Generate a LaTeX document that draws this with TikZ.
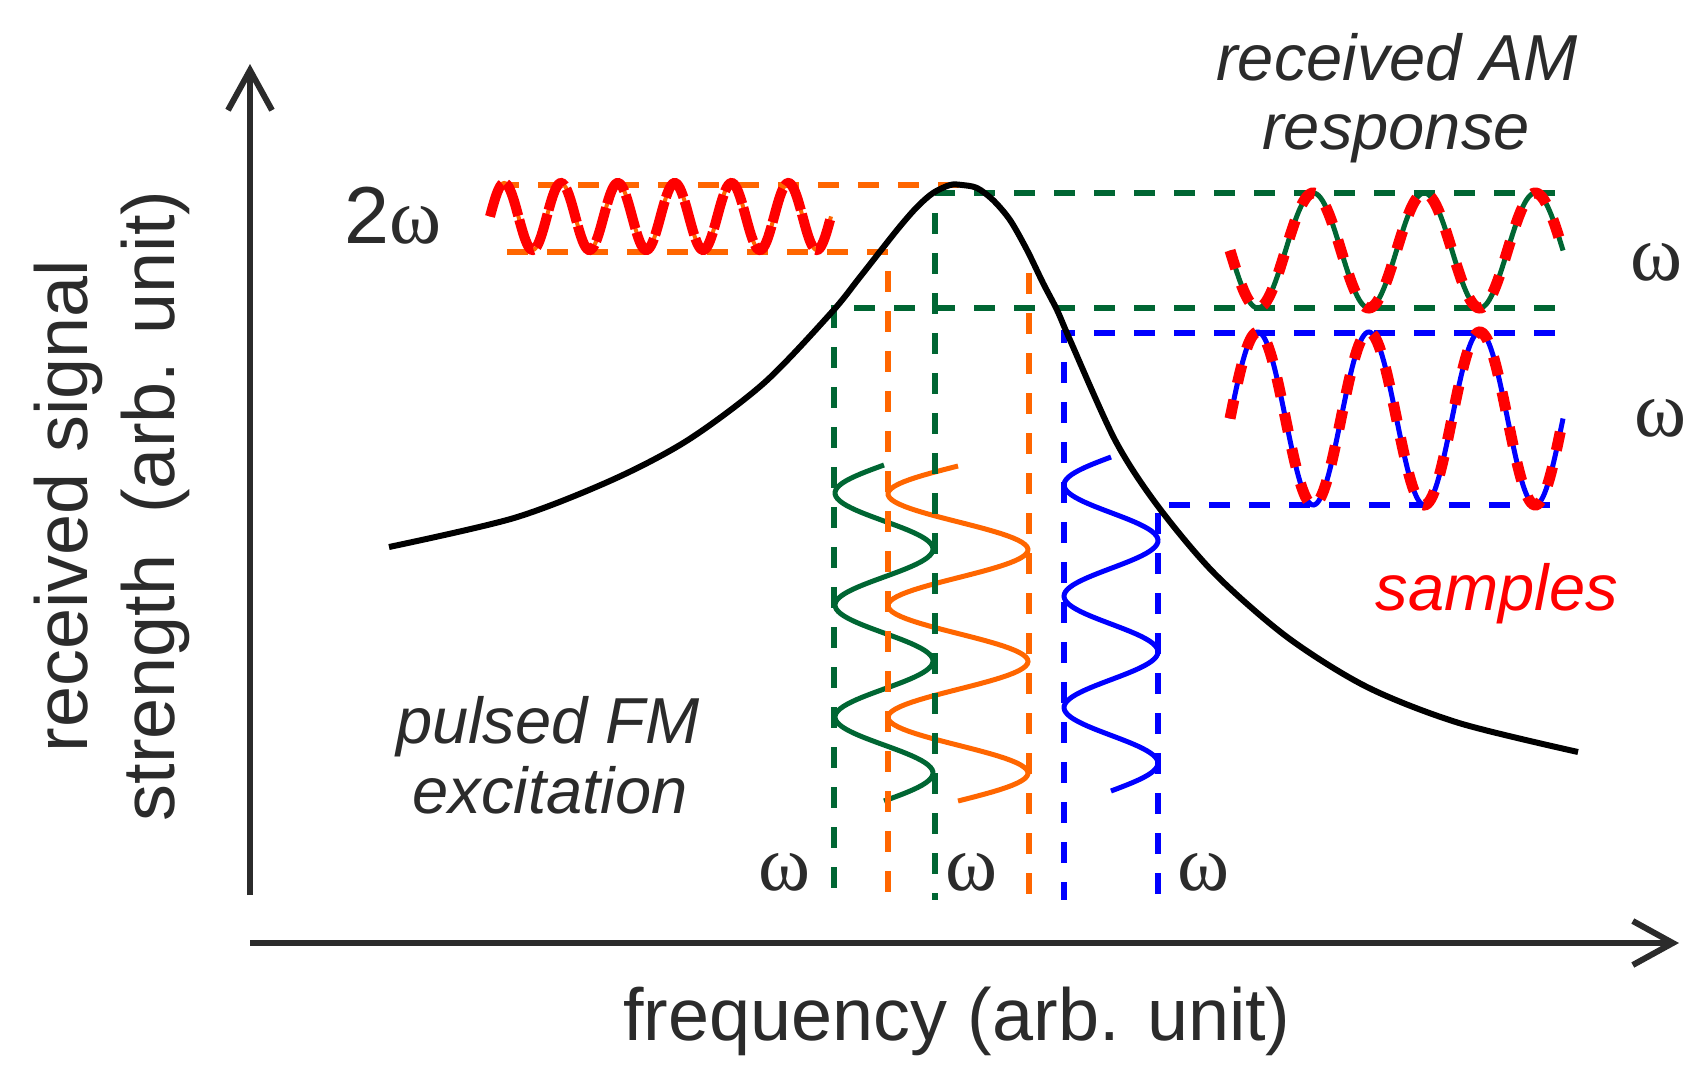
\documentclass[tikz,border=0pt]{standalone}
\usepackage{fontspec}
\setmainfont{Liberation Sans}
\newfontfamily\greek{Liberation Serif}
\usetikzlibrary{arrows.meta}
\definecolor{ink}{HTML}{2B2B2B}
\definecolor{fmgreen}{HTML}{006633}
\definecolor{fmorange}{HTML}{FF6600}
\definecolor{fmblue}{HTML}{0000FF}
\definecolor{fmred}{HTML}{FF0000}
\begin{document}
\begin{tikzpicture}[x=0.1mm,y=-0.1mm,
  axis/.style={ink,line width=0.6mm,-{Straight Barb[length=4mm,width=4.4mm]}},
  guide/.style={line width=0.6mm,dash pattern=on 2.1mm off 1.9mm},
  wave/.style={line width=0.5mm},
  sampled/.style={fmred,line width=1.1mm,dash pattern=on 1.9mm off 1.7mm},
  lbl/.style={text=ink,inner sep=0pt,anchor=base},
  big/.style={lbl,font=\fontsize{21}{25}\selectfont},
  note/.style={lbl,font=\itshape\fontsize{18.5}{22}\selectfont},
  omega/.style={lbl,font=\greek\fontsize{22.5}{26}\selectfont}]
\useasboundingbox (0,0) rectangle (1702,1084);
% axes
\draw[axis] (250,895) -- (250,64);
\draw[axis] (250,943) -- (1679,943);
\node[big] (xlab) at (957,1040) {frequency (arb. unit)};
\node[big,rotate=90] (ylab1) at (87,506) {received signal};
\node[big,rotate=90] (ylab2) at (174,506) {strength\ \ (arb. unit)};
% pulsed FM excitation
\draw[fmgreen,wave,domain=465:801,samples=150] plot ({884-49*sin((\x-465)/112*360)},\x);
\draw[fmorange,wave,domain=466:801,samples=150] plot ({958-70*sin((\x-466)/111.67*360)},\x);
\draw[fmblue,wave,domain=457:791,samples=150] plot ({1111-47*sin((\x-457)/111.33*360)},\x);
% guide lines
\draw[fmorange,guide] (498,185) -- (960,185);
\draw[fmorange,guide] (507,252) -- (888,252) -- (888,900);
\draw[fmorange,guide] (1029,273) -- (1029,900);
\draw[fmgreen,guide] (1555,193) -- (935,193) -- (935,900);
\draw[fmgreen,guide] (1555,308) -- (834,308) -- (834,900);
\draw[fmblue,guide] (1555,333) -- (1064,333) -- (1064,900);
\draw[fmblue,guide] (1550,505) -- (1158,505) -- (1158,900);
% resonance curve
\draw[black,line width=0.6mm] plot[smooth,tension=0.5] coordinates {(389,547) (514,518) (612,480) (688,440) (764,383) (831,313) (860,277) (897,230) (917,207) (933,193) (950,185) (962,185) (977,188) (993,200) (1010,220) (1027,250) (1043,283) (1057,310) (1070,340) (1115,440) (1157,505) (1214,573) (1287,637) (1367,687) (1459,723) (1578,752)};
% 2 omega
\draw[fmorange,line width=0.4mm,domain=490:831,samples=240] plot (\x,{216.5-33.5*sin((\x-490)/56.83*360)});
\draw[fmred,line width=1mm,dash pattern=on 3.5mm off 0.4mm,domain=490:831,samples=240] plot (\x,{216.5-33.5*sin((\x-490)/56.83*360)});
\node[lbl,font=\fontsize{23}{27}\selectfont] (two) at (393,243) {2{\greek\fontsize{22.5}{26}\selectfont ω}};
% received AM response
\draw[fmgreen,wave,domain=1230:1563,samples=200] plot (\x,{250.5+57.5*sin((\x-1230)/111*360)});
\draw[sampled,domain=1230:1563,samples=200] plot (\x,{250.5+57.5*sin((\x-1230)/111*360)});
\draw[fmblue,wave,domain=1230:1563,samples=200] plot (\x,{418.5-86.5*sin((\x-1230)/111*360)});
\draw[sampled,domain=1230:1563,samples=200] plot (\x,{418.5-86.5*sin((\x-1230)/111*360)});
% labels
\node[note] (am1) at (1397,80) {received AM};
\node[note] (am2) at (1396,149) {response};
\node[note] (fm1) at (548,743) {pulsed FM};
\node[note] (fm2) at (550,813) {excitation};
\node[note,text=fmred] (samp) at (1497,610) {samples};
\node[omega] (w1) at (784.5,890) {ω};
\node[omega] (w2) at (971.5,890) {ω};
\node[omega] (w3) at (1203.5,890) {ω};
\node[omega] (w4) at (1656,280) {ω};
\node[omega] (w5) at (1660,436) {ω};
\end{tikzpicture}
\end{document}
